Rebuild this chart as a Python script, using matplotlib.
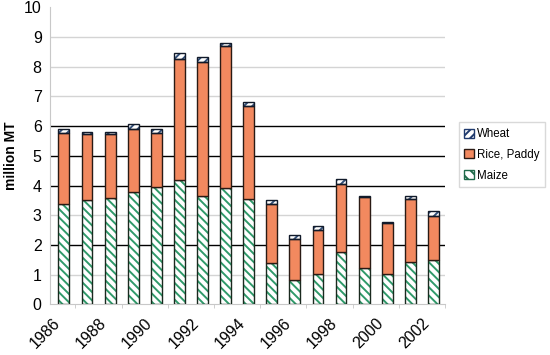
import numpy as np
import matplotlib.pyplot as plt

plt.rcParams['font.family'] = ['Liberation Sans', 'DejaVu Sans']
plt.rcParams['hatch.linewidth'] = 1.4

years = list(range(1986, 2003))
maize = [3.38, 3.51, 3.57, 3.77, 3.96, 4.19, 3.66, 3.91, 3.54,
         1.38, 0.82, 1.02, 1.76, 1.23, 1.02, 1.43, 1.49]
rice_top = [5.76, 5.73, 5.72, 5.89, 5.78, 8.26, 8.17, 8.69, 6.68,
            3.38, 2.21, 2.50, 4.04, 3.60, 2.75, 3.54, 2.97]
total = [5.90, 5.82, 5.82, 6.07, 5.90, 8.45, 8.32, 8.81, 6.82,
         3.51, 2.32, 2.65, 4.23, 3.65, 2.78, 3.65, 3.15]

rice = [r - m for r, m in zip(rice_top, maize)]
wheat = [t - r for t, r in zip(total, rice_top)]
even_years = [y for y in years if y % 2 == 0]

x = np.arange(len(years))
w = 0.47

fig = plt.figure(figsize=(5.5, 3.55), dpi=100)
ax = fig.add_axes([0.091, 0.143, 0.718, 0.836])

for v in [1, 3, 7, 8, 9]:
    ax.axhline(v, color='#d4d4d4', lw=1, zorder=0)
for v in [2, 4, 5, 6]:
    ax.axhline(v, color='black', lw=1, zorder=0)

# maize: green hatch on white
ax.bar(x, maize, w, color='white', edgecolor='#2f9a6a', hatch='\\\\\\\\', lw=0, zorder=2)
ax.bar(x, maize, w, fill=False, edgecolor='#1a2a1f', lw=1, zorder=3)
# rice
ax.bar(x, rice, w, bottom=maize, color='#f2895f', edgecolor='#2a1a14', lw=1, zorder=3)
# wheat: blue hatch on white
ax.bar(x, wheat, w, bottom=rice_top, color='white', edgecolor='#33507a', hatch='////', lw=0, zorder=2)
ax.bar(x, wheat, w, bottom=rice_top, fill=False, edgecolor='#111a2a', lw=1, zorder=3)

# legend proxies
h_w = plt.Rectangle((0, 0), 1, 1, facecolor='white', edgecolor='#1f3a6e', hatch='////', lw=1)
h_r = plt.Rectangle((0, 0), 1, 1, facecolor='#f2895f', edgecolor='#2a1a14', lw=1)
h_m = plt.Rectangle((0, 0), 1, 1, facecolor='white', edgecolor='#1f6a4a', hatch='\\\\\\', lw=1)
leg = fig.legend([h_w, h_r, h_m], ['Wheat', 'Rice, Paddy', 'Maize'],
                 loc='upper left', bbox_to_anchor=(0.834, 0.655), fontsize=8.3,
                 frameon=True, fancybox=False, handlelength=0.8, handleheight=0.8,
                 handletextpad=0.3, labelspacing=0.75, borderpad=0.5,
                 borderaxespad=0)
leg.get_frame().set_edgecolor('#d0d0d0')
leg.get_frame().set_linewidth(1)

ax.set_ylim(0, 10)
ax.set_xlim(-0.6, 16.45)
ax.set_yticks(range(0, 11))
ax.tick_params(axis='y', length=0, labelsize=11.5, pad=6)
# year labels sit a little left of their bars, as in the original
ax.set_xticks([years.index(y) - 0.5 for y in even_years])
ax.set_xticklabels([str(y) for y in even_years], rotation=45, ha='right',
                   rotation_mode='anchor', fontsize=11.5)
ax.set_xticks(np.arange(-0.5, len(years), 1), minor=True)
ax.tick_params(axis='x', which='major', length=0, pad=8)
ax.tick_params(axis='x', which='minor', length=3, color='#c8c8c8')
ax.set_ylabel('million MT', fontsize=10, fontweight='bold', labelpad=4)

for s in ['top', 'right']:
    ax.spines[s].set_visible(False)
ax.spines['left'].set_color('#c8c8c8')
ax.spines['bottom'].set_color('#c8c8c8')

fig.savefig('out.png', dpi=100)
